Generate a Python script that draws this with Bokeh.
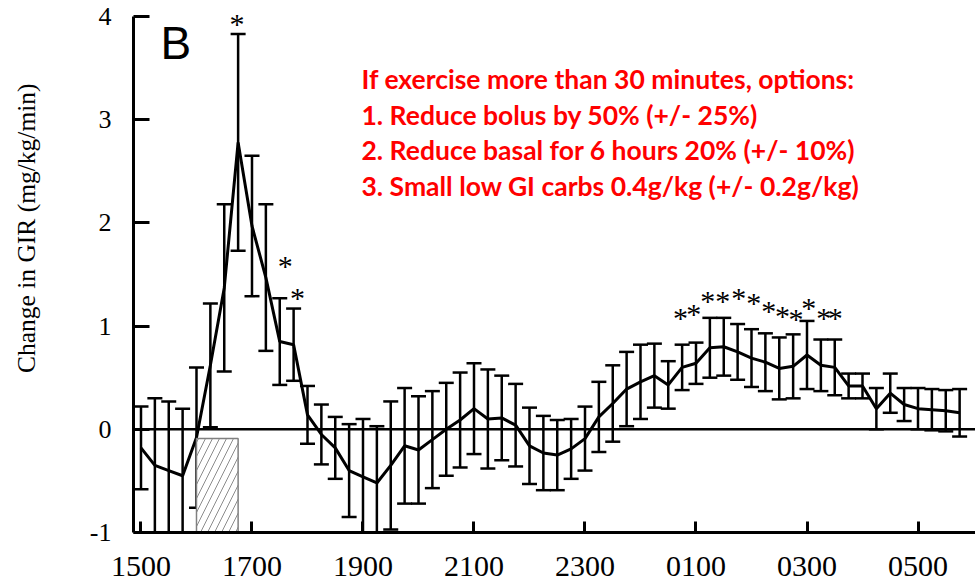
from bokeh.plotting import figure
from bokeh.models import Range1d, FixedTicker, Span, Label
from bokeh.embed import file_html
from bokeh.resources import INLINE
from bokeh.core.properties import value

# ---- data (hours after 15:00, 15-minute samples) ----
hours = [0.0, 0.25, 0.5, 0.75, 1.0, 1.25, 1.5, 1.75, 2.0, 2.25,
         2.5, 2.75, 3.0, 3.25, 3.5, 3.75, 4.0, 4.25, 4.5, 4.75,
         5.0, 5.25, 5.5, 5.75, 6.0, 6.25, 6.5, 6.75, 7.0, 7.25,
         7.5, 7.75, 8.0, 8.25, 8.5, 8.75, 9.0, 9.25, 9.5, 9.75,
         10.0, 10.25, 10.5, 10.75, 11.0, 11.25, 11.5, 11.75, 12.0, 12.25,
         12.5, 12.75, 13.0, 13.25, 13.5, 13.75, 14.0, 14.25, 14.5, 14.75]
gir_mean = [-0.18, -0.35, -0.40, -0.45, -0.08, 0.62, 1.37, 2.78, 1.97, 1.47,
            0.85, 0.82, 0.14, -0.05, -0.18, -0.40, -0.46, -0.52, -0.35, -0.16,
            -0.20, -0.10, 0.00, 0.09, 0.20, 0.10, 0.11, 0.04, -0.16, -0.23,
            -0.25, -0.19, -0.09, 0.12, 0.25, 0.39, 0.46, 0.52, 0.43, 0.60,
            0.64, 0.79, 0.80, 0.75, 0.69, 0.65, 0.59, 0.61, 0.72, 0.62,
            0.60, 0.42, 0.42, 0.20, 0.35, 0.24, 0.20, 0.19, 0.18, 0.16]
gir_sem = [0.40, 0.65, 0.67, 0.65, 0.68, 0.60, 0.81, 1.05, 0.68, 0.71,
           0.42, 0.35, 0.28, 0.29, 0.30, 0.45, 0.56, 0.55, 0.62, 0.56,
           0.52, 0.47, 0.45, 0.46, 0.44, 0.48, 0.41, 0.40, 0.37, 0.36,
           0.34, 0.29, 0.31, 0.34, 0.37, 0.36, 0.36, 0.31, 0.23, 0.22,
           0.20, 0.29, 0.28, 0.27, 0.28, 0.28, 0.30, 0.31, 0.33, 0.25,
           0.27, 0.12, 0.12, 0.20, 0.19, 0.16, 0.20, 0.20, 0.20, 0.23]

x_tick_hours = [0, 2, 4, 6, 8, 10, 12, 14]
x_tick_labels = ["1500", "1700", "1900", "2100", "2300", "0100", "0300", "0500"]
y_ticks = [-1, 0, 1, 2, 3, 4]
y_tick_labels = ["-1", "0", "1", "2", "3", "4"]
y_title = "Change in GIR (mg/kg/min)"

star_hours = [1.73, 2.60, 2.82, 9.72, 9.96, 10.21, 10.48, 10.77, 11.04,
              11.31, 11.56, 11.80, 12.03, 12.30, 12.51]
star_values = [3.97, 1.63, 1.32, 1.12, 1.16, 1.29, 1.29, 1.32, 1.27,
               1.19, 1.14, 1.11, 1.22, 1.12, 1.12]

exercise_start = [1.0]
exercise_end = [1.75]
exercise_bottom = [-1.0]
exercise_top = [-0.09]

note_lines = ["If exercise more than 30 minutes, options:",
              "1. Reduce bolus by 50% (+/- 25%)",
              "2. Reduce basal for 6 hours 20% (+/- 10%)",
              "3. Small low GI carbs 0.4g/kg (+/- 0.2g/kg)"]
note_y = [3.397, 3.050, 2.702, 2.362]

upper = [m + s for m, s in zip(gir_mean, gir_sem)]
lower = [m - s for m, s in zip(gir_mean, gir_sem)]

p = figure(width=975, height=583,
           x_range=Range1d(-0.135, 15.036), y_range=Range1d(-1, 4.155),
           output_backend="svg", toolbar_location=None,
           min_border_left=133, min_border_right=0,
           min_border_top=0, min_border_bottom=51)
p.outline_line_color = None
p.xgrid.visible = False
p.ygrid.visible = False

serif = "Liberation Serif"

p.yaxis.ticker = FixedTicker(ticks=y_ticks)
p.yaxis.bounds = (y_ticks[0], y_ticks[-1])
p.yaxis.major_label_overrides = {t: s for t, s in zip(y_ticks, y_tick_labels)}
p.yaxis.major_tick_in = 16
p.yaxis.major_tick_out = 0
p.yaxis.minor_tick_line_color = None
p.yaxis.axis_line_width = 3
p.yaxis.major_tick_line_width = 3
p.yaxis.major_label_text_font = serif
p.yaxis.major_label_text_font_size = "26px"
p.yaxis.major_label_standoff = 22
p.yaxis.major_label_text_color = "black"
# leading no-break spaces lift the centred title to where the reference has it
p.yaxis.axis_label = "\u00a0" * 12 + y_title
p.yaxis.axis_label_standoff = 46
p.yaxis.axis_label_text_font = serif
p.yaxis.axis_label_text_font_size = "25.5px"
p.yaxis.axis_label_text_font_style = "normal"
p.yaxis.axis_label_text_color = "black"

p.xaxis.ticker = FixedTicker(ticks=x_tick_hours)
p.xaxis.major_label_overrides = {h: t for h, t in zip(x_tick_hours, x_tick_labels)}
p.xaxis.major_tick_in = 11
p.xaxis.major_tick_out = 0
p.xaxis.minor_tick_line_color = None
p.xaxis.axis_line_width = 3
p.xaxis.major_tick_line_width = 3
p.xaxis.major_label_text_font = serif
p.xaxis.major_label_text_font_size = "30px"
p.xaxis.major_label_text_line_height = 0.8
p.xaxis.major_label_standoff = 24
p.xaxis.major_label_text_color = "black"

p.add_layout(Span(location=0, dimension="width", line_color="black", line_width=2.5))

p.segment(x0=hours, y0=lower, x1=hours, y1=upper, line_color="black", line_width=2.5)
p.scatter(x=hours + hours, y=upper + lower, marker="dash", size=15,
          line_color="black", line_width=2.5)
p.line(hours, gir_mean, line_color="black", line_width=3)

p.quad(left=exercise_start, right=exercise_end, bottom=exercise_bottom, top=exercise_top,
       fill_color="white", line_color="#808080", line_width=1.5,
       hatch_pattern="/", hatch_color="#8c8c8c", hatch_weight=1, hatch_scale=14)

p.text(x=star_hours, y=star_values, text=["*"] * len(star_hours),
       text_font=value(serif), text_font_size="30px", text_color="black",
       text_align="center", text_baseline="middle", y_offset=4)

p.add_layout(Label(x=0.35, y=3.745, text="B", text_font="Liberation Sans",
                   text_font_size="46px", text_color="black",
                   text_align="left", text_baseline="alphabetic"))
for line_text, ly in zip(note_lines, note_y):
    p.add_layout(Label(x=3.973, y=ly, text=line_text, text_font="Lato",
                       text_font_style="bold", text_font_size="26.5px", text_color="#ff0000",
                       text_align="left", text_baseline="alphabetic"))

open("out.html", "w").write(file_html(p, INLINE))
